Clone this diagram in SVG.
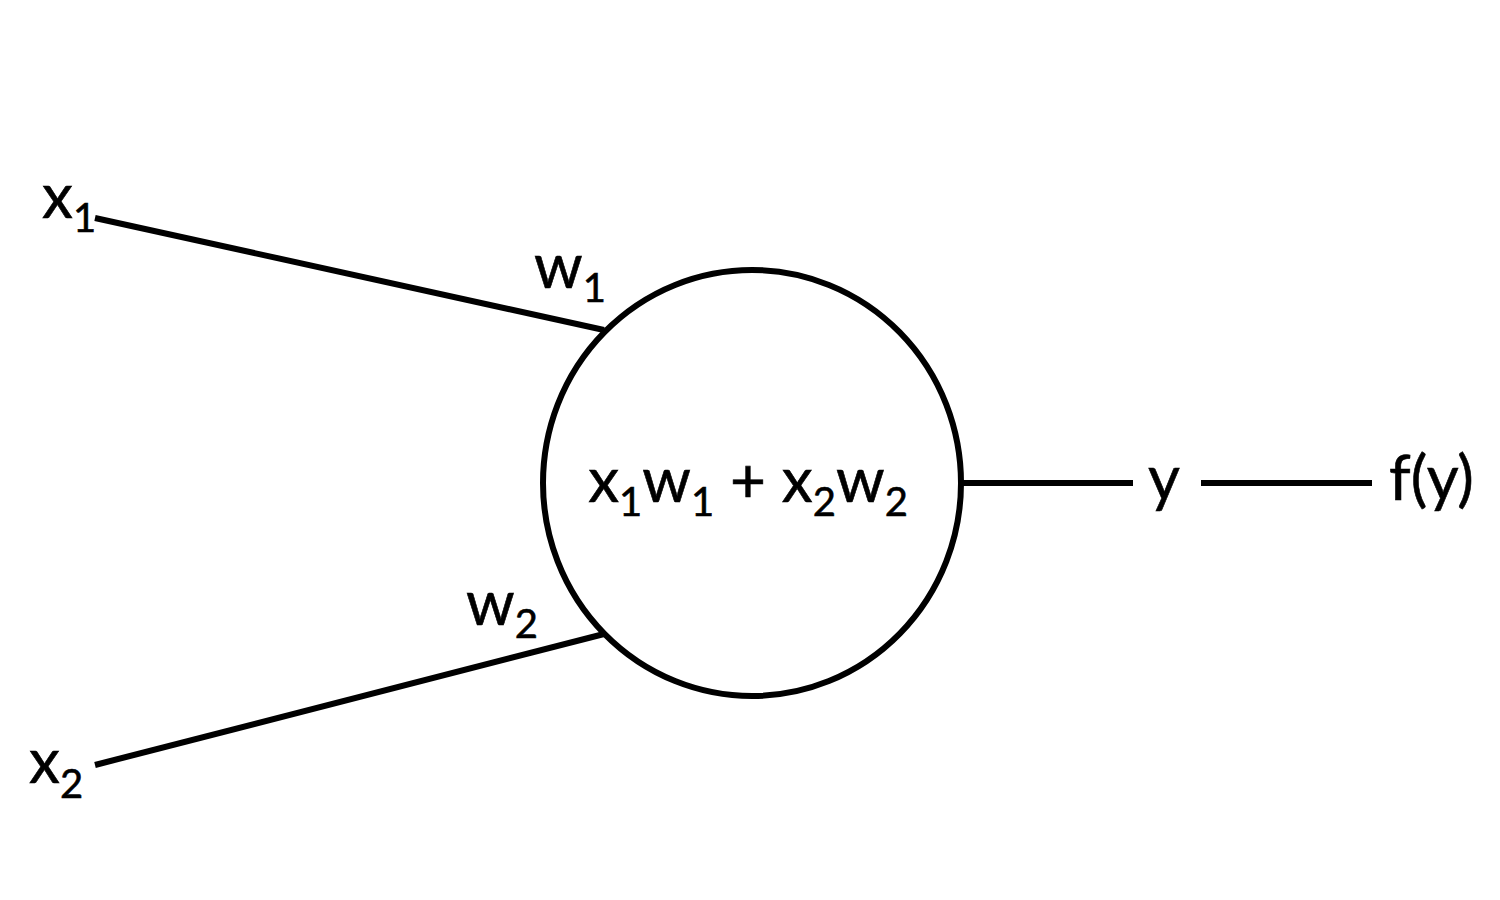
<svg xmlns="http://www.w3.org/2000/svg" width="1500" height="900" viewBox="0 0 1500 900">
<style>
.t{font-family:Lato,"Open Sans","Liberation Sans",sans-serif;font-size:62px;fill:#000;stroke:#000;stroke-width:0.6}
.s{font-size:40px}
.ln{stroke:#000;stroke-width:6;fill:none}
</style>
<rect width="1500" height="900" fill="#fff"/>
<g id="connectors">
<line class="ln" x1="95" y1="218" x2="604" y2="330"/>
<line class="ln" x1="95" y1="765" x2="604" y2="634"/>
<line class="ln" x1="962" y1="483" x2="1133" y2="483"/>
<line class="ln" x1="1201" y1="483" x2="1372" y2="483"/>
</g>
<g id="neuron">
<ellipse class="ln" cx="752" cy="483" rx="209" ry="213"/>
<text class="t" x="748" y="502" text-anchor="middle">x<tspan class="s" dy="14">1</tspan><tspan dy="-14">w</tspan><tspan class="s" dy="14">1</tspan><tspan dy="-14"> + x</tspan><tspan class="s" dy="14">2</tspan><tspan dy="-14">w</tspan><tspan class="s" dy="14">2</tspan></text>
</g>
<g id="x1"><text class="t" x="42" y="218">x<tspan class="s" dy="14">1</tspan></text></g>
<g id="x2"><text class="t" x="29" y="783">x<tspan class="s" dy="15">2</tspan></text></g>
<g id="w1"><text class="t" x="534" y="288">w<tspan class="s" dy="14">1</tspan></text></g>
<g id="w2"><text class="t" x="466" y="625">w<tspan class="s" dy="13">2</tspan></text></g>
<g id="y"><text class="t" x="1148" y="500">y</text></g>
<g id="fy"><text class="t" x="1389" y="500">f(y)</text></g>
</svg>
